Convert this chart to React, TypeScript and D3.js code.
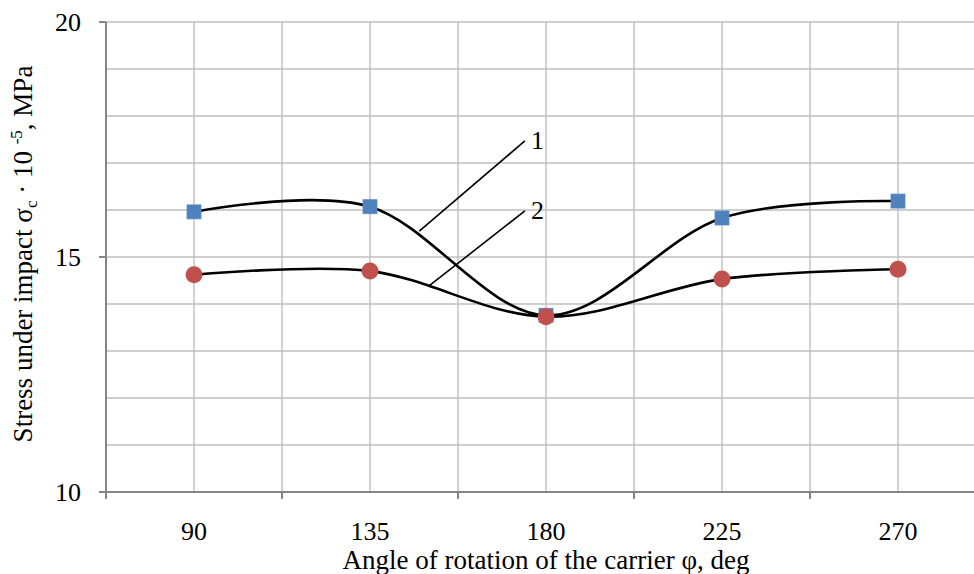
import React from "react";
import * as d3 from "d3";

const categories = ["90", "135", "180", "225", "270"];
const series1 = [15.96, 16.07, 13.76, 15.83, 16.19];
const series2 = [14.62, 14.7, 13.73, 14.53, 14.74];
const yTicks = [10, 15, 20];
const yGrid = d3.range(10, 21, 1);

// leader lines for the curve labels, in data units (category index, value)
const callouts = [
  { label: "1", from: [1.28, 15.55], to: [1.88, 17.47] },
  { label: "2", from: [1.337, 14.39], to: [1.88, 15.98] },
];

const W = 974;
const H = 574;
const margin = { top: 22, left: 106, bottom: 82 };
const band = 176;
const font = "'Liberation Serif', 'Times New Roman', serif";

const App = () => {
  const x = d3
    .scaleBand<string>()
    .domain(categories)
    .range([margin.left, margin.left + band * categories.length]);
  const xc = (i: number) => margin.left + band * (i + 0.5);
  const y = d3.scaleLinear().domain([10, 20]).range([H - margin.bottom, margin.top]);

  const line = d3
    .line<number>()
    .x((_, i) => xc(i))
    .y((d) => y(d))
    .curve(d3.curveCardinal.tension(0));

  const vGrid: number[] = [];
  categories.forEach((c) => {
    vGrid.push(x(c)! + x.bandwidth() / 2);
    vGrid.push(x(c)! + x.bandwidth());
  });

  const y0 = y(10);
  const plotMid = margin.left + (band * categories.length) / 2;

  return (
    <svg
      width={W}
      height={H}
      style={{ position: "absolute", left: 0, top: 0, background: "#fff" }}
      fontFamily={font}
    >
      {/* grid */}
      {yGrid.map((v) => (
        <line key={"h" + v} x1={margin.left} x2={W} y1={y(v)} y2={y(v)} stroke="#bfbfbf" strokeWidth={1.4} />
      ))}
      {vGrid.map((gx, i) => (
        <line key={"v" + i} x1={gx} x2={gx} y1={margin.top} y2={y0} stroke="#bfbfbf" strokeWidth={1.4} />
      ))}

      {/* axes */}
      <line x1={margin.left} x2={margin.left} y1={margin.top} y2={y0 + 7} stroke="#868686" strokeWidth={2} />
      <line x1={margin.left - 7} x2={W} y1={y0} y2={y0} stroke="#868686" strokeWidth={2} />
      {yTicks.map((v) => (
        <g key={"yt" + v}>
          <line x1={margin.left - 7} x2={margin.left} y1={y(v)} y2={y(v)} stroke="#868686" strokeWidth={2} />
          <text x={81} y={y(v) + 9} textAnchor="end" fontSize={26}>
            {v}
          </text>
        </g>
      ))}
      {categories.map((c) => (
        <g key={"xt" + c}>
          <line x1={x(c)!} x2={x(c)!} y1={y0} y2={y0 + 7} stroke="#868686" strokeWidth={2} />
          <text x={x(c)! + x.bandwidth() / 2} y={y0 + 48} textAnchor="middle" fontSize={26}>
            {c}
          </text>
        </g>
      ))}

      {/* axis titles */}
      <text x={plotMid} y={569} textAnchor="middle" fontSize={27}>
        Angle of rotation of the carrier φ, deg
      </text>
      <text transform="translate(32,254) rotate(-90)" textAnchor="middle" fontSize={27}>
        Stress under impact σ
        <tspan fontSize={17} dy={5}>c</tspan>
        <tspan dy={-5}> · 10 </tspan>
        <tspan fontSize={17} dy={-10}>-5</tspan>
        <tspan dy={10}>, MPa</tspan>
      </text>

      {/* series 1 */}
      <path d={line(series1)!} fill="none" stroke="#000" strokeWidth={2.6} />
      {series1.map((v, i) => (
        <rect key={"s" + i} x={xc(i) - 7} y={y(v) - 7} width={14} height={14} fill="#4f81bd" stroke="#5a8ac6" strokeWidth={0.8} />
      ))}

      {/* series 2 */}
      <path d={line(series2)!} fill="none" stroke="#000" strokeWidth={2.6} />
      {series2.map((v, i) => (
        <circle key={"c" + i} cx={xc(i)} cy={y(v)} r={8.5} fill="#c0504d" />
      ))}

      {/* callouts */}
      {callouts.map((c) => (
        <g key={c.label}>
          <line
            x1={xc(c.from[0])}
            y1={y(c.from[1])}
            x2={xc(c.to[0])}
            y2={y(c.to[1])}
            stroke="#000"
            strokeWidth={1.6}
          />
          <text x={xc(c.to[0]) + 6} y={y(c.to[1]) + 8} fontSize={26}>
            {c.label}
          </text>
        </g>
      ))}
    </svg>
  );
};

export default App;
